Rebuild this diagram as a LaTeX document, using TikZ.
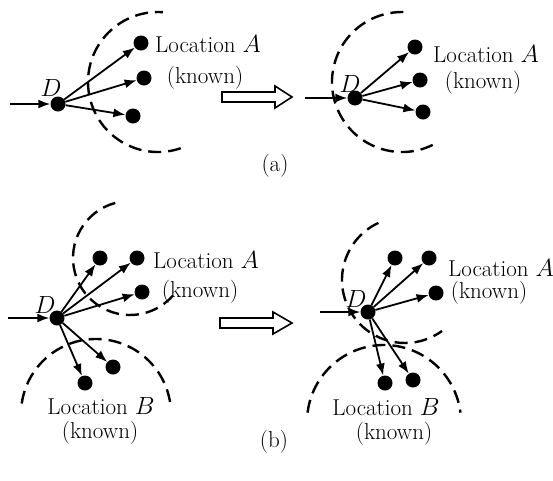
\documentclass[tikz,border=0pt]{standalone}
\usetikzlibrary{arrows.meta}
\begin{document}
\begin{tikzpicture}[x=1pt,y=-1pt,
  dot/.style={circle,fill=black,inner sep=0pt,minimum size=15pt},
  lbl/.style={font=\fontsize{23}{26}\selectfont,inner sep=0pt},
  tx/.style={font=\fontsize{23}{26}\selectfont,inner sep=0pt,anchor=base},
  arr/.style={line width=1.8pt,-{Latex[length=12pt,width=9pt]}},
  darc/.style={line width=2.4pt,dash pattern=on 13pt off 7pt},
  hollow/.style={line width=1.6pt,line join=miter}]
\useasboundingbox (0,0) rectangle (553,480);

% ---------- (a) left ----------
\coordinate (inA1) at (10,104);
\node[dot] (DA1) at (58,104) {};
\node[dot] (a11) at (141,43) {};
\node[dot] (a12) at (144,78) {};
\node[dot] (a13) at (133,116) {};
\node[lbl] (dA1) at (51,88) {$D$};
\node[tx] (locA1) at (208,52) {Location $A$};
\node[tx] (knA1) at (205,83) {(known)};
\draw[arr] (inA1) -- (DA1);
\draw[arr] (DA1) -- (a11);
\draw[arr] (DA1) -- (a12);
\draw[arr] (DA1) -- (a13);
\draw[darc] ([shift={(71:70)}]158,82) arc[start angle=71,end angle=274,radius=70];

% hollow arrow (a)
\draw[hollow] (222,92) -- (275,92) -- (275,86) -- (292,97) -- (275,108) -- (275,102) -- (222,102) -- cycle;

% ---------- (a) right ----------
\coordinate (inA2) at (305,98);
\node[dot] (DA2) at (355,98) {};
\node[dot] (a21) at (415,47) {};
\node[dot] (a22) at (420,80) {};
\node[dot] (a23) at (423,112) {};
\node[lbl] (dA2) at (350,84) {$D$};
\node[tx] (locA2) at (486,62) {Location $A$};
\node[tx] (knA2) at (483,88) {(known)};
\draw[arr] (inA2) -- (DA2);
\draw[arr] (DA2) -- (a21);
\draw[arr] (DA2) -- (a22);
\draw[arr] (DA2) -- (a23);
\draw[darc] ([shift={(64:70)}]402,82) arc[start angle=64,end angle=274,radius=70];

\node[tx] (capa) at (275,171) {(a)};

% ---------- (b) left ----------
\coordinate (inB1) at (8,318);
\node[dot] (DB1) at (57,318) {};
\node[dot] (b11) at (100,258) {};
\node[dot] (b12) at (137,258) {};
\node[dot] (b13) at (142,292) {};
\node[dot] (b14) at (113,367) {};
\node[dot] (b15) at (85,383) {};
\node[lbl] (dB1) at (45,305) {$D$};
\node[tx] (locB1A) at (206,268) {Location $A$};
\node[tx] (knB1A) at (200,297) {(known)};
\node[tx] (locB1B) at (101,414) {Location $B$};
\node[tx] (knB1B) at (100,438) {(known)};
\draw[arr] (inB1) -- (DB1);
\draw[arr] (DB1) -- (b11);
\draw[arr] (DB1) -- (b12);
\draw[arr] (DB1) -- (b13);
\draw[arr] (DB1) -- (b14);
\draw[arr] (DB1) -- (b15);
\draw[darc] ([shift={(255:57)}]130,258) arc[start angle=255,end angle=41,radius=57];
\draw[darc] ([shift={(188:75)}]96,414) arc[start angle=188,end angle=352,radius=75];

% hollow arrow (b)
\draw[hollow] (220,318) -- (273,318) -- (273,312) -- (292,323) -- (273,334) -- (273,328) -- (220,328) -- cycle;

% ---------- (b) right ----------
\coordinate (inB2) at (320,312);
\node[dot] (DB2) at (368,312) {};
\node[dot] (b21) at (395,258) {};
\node[dot] (b22) at (429,258) {};
\node[dot] (b23) at (436,293) {};
\node[dot] (b24) at (385,383) {};
\node[dot] (b25) at (413,380) {};
\node[lbl] (dB2) at (356,299) {$D$};
\node[tx] (locB2A) at (501,276) {Location $A$};
\node[tx] (knB2A) at (489,298) {(known)};
\node[tx] (locB2B) at (386,415) {Location $B$};
\node[tx] (knB2B) at (394,439) {(known)};
\draw[arr] (inB2) -- (DB2);
\draw[arr] (DB2) -- (b21);
\draw[arr] (DB2) -- (b22);
\draw[arr] (DB2) -- (b23);
\draw[arr] (DB2) -- (b24);
\draw[arr] (DB2) -- (b25);
\draw[darc] ([shift={(245:63)}]405,280) arc[start angle=245,end angle=54,radius=63];
\draw[darc] ([shift={(187:77)}]384,422) arc[start angle=187,end angle=353,radius=77];

\node[tx] (capb) at (274,447) {(b)};
\end{tikzpicture}
\end{document}
